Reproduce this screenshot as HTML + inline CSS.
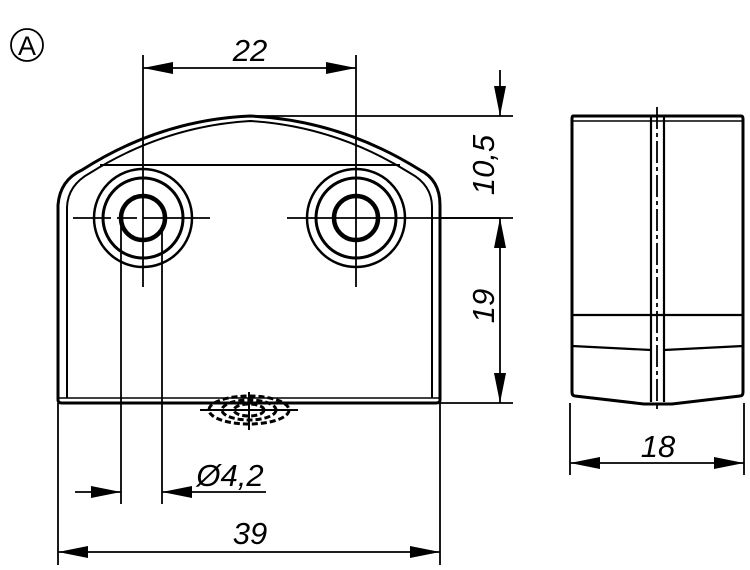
<!DOCTYPE html>
<html><head><meta charset="utf-8"><style>
html,body{margin:0;padding:0;background:#fff;}
svg{display:block}
text{font-family:"Liberation Sans",sans-serif;font-style:italic;fill:#000}
</style></head><body>
<svg width="750" height="570" viewBox="0 0 750 570" xmlns="http://www.w3.org/2000/svg">
<defs>
<marker id="ar" viewBox="0 0 10 4" refX="10" refY="2" markerWidth="30" markerHeight="12" markerUnits="userSpaceOnUse" orient="auto-start-reverse"><path d="M0,0L10,2L0,4z" fill="#000"/></marker>
</defs>
<g fill="none" stroke="#000">
<circle cx="27" cy="45" r="16" stroke-width="1.8"/>
<path d="M58,400 L58,205 Q60,180 82,170 Q160,120 250,116 Q340,120 420,170 Q440,180 440,205 L440,400 Q440,403 436,403 L62,403 Q58,403 58,400Z" stroke-width="3"/>
<path d="M67,398 L67,207 Q68,185 90,173 Q165,126 250,121 Q335,126 410,173 Q432,185 432,207 L432,398" stroke-width="2"/>
<line x1="100" y1="165" x2="400" y2="165" stroke-width="2"/>
<line x1="58" y1="398" x2="440" y2="398" stroke-width="1.5"/>
<g stroke-width="2.5">
<circle cx="143" cy="218" r="49"/><circle cx="143" cy="218" r="40" stroke-width="3"/><circle cx="143" cy="218" r="22" stroke-width="4.5"/>
<circle cx="356" cy="218" r="49"/><circle cx="356" cy="218" r="40" stroke-width="3"/><circle cx="356" cy="218" r="22" stroke-width="4.5"/>
</g>
<g stroke-width="1.8">
<line x1="73" y1="218" x2="210" y2="218" stroke-dasharray="38,6,20,6,200"/>
<line x1="287" y1="218" x2="500" y2="218"/>
<line x1="143" y1="55" x2="143" y2="287"/>
<line x1="356" y1="55" x2="356" y2="287"/>
<line x1="121" y1="225" x2="121" y2="504"/>
<line x1="162" y1="225" x2="162" y2="504"/>
<line x1="58" y1="403" x2="58" y2="565"/>
<line x1="440" y1="403" x2="440" y2="565"/>
<line x1="250" y1="116" x2="513" y2="116"/>
<line x1="440" y1="218" x2="513" y2="218"/>
<line x1="440" y1="403" x2="513" y2="403"/>
<line x1="143" y1="68" x2="356" y2="68" marker-start="url(#ar)" marker-end="url(#ar)"/>
<line x1="500" y1="70" x2="500" y2="116" marker-end="url(#ar)"/>
<line x1="500" y1="218" x2="500" y2="403" marker-start="url(#ar)" marker-end="url(#ar)"/>
<line x1="58" y1="552" x2="440" y2="552" marker-start="url(#ar)" marker-end="url(#ar)"/>
<line x1="75" y1="492" x2="121" y2="492" marker-end="url(#ar)"/>
<line x1="266" y1="492" x2="162" y2="492" marker-end="url(#ar)"/>
</g>
<g stroke-width="3" stroke-dasharray="6,3">
<ellipse cx="249" cy="410" rx="40" ry="14"/>
<ellipse cx="249" cy="410" rx="27" ry="10"/>
<ellipse cx="249" cy="410" rx="15" ry="6"/>
</g>
<line x1="200" y1="410" x2="298" y2="410" stroke-width="2"/>
<line x1="249" y1="392" x2="249" y2="430" stroke-width="2"/>
<path d="M573,116 L741,116 Q743,116 743,119 L743,392 Q743,396 740,396 L672,404 L666,404 L650,404 L644,404 L575,396 Q572,396 572,392 L572,119 Q572,116 573,116Z" stroke-width="3"/>
<line x1="573" y1="121" x2="742" y2="121" stroke-width="1.5"/>
<line x1="651" y1="117" x2="651" y2="402" stroke-width="2.2"/>
<line x1="664" y1="117" x2="664" y2="402" stroke-width="2.2"/>
<line x1="657" y1="107" x2="657" y2="412" stroke-width="1.8" stroke-dasharray="22,4,4,4"/>
<line x1="572" y1="315" x2="743" y2="315" stroke-width="2.2"/>
<path d="M572,346 L651,350 M664,350 L743,346" stroke-width="2.2"/>
<line x1="570" y1="403" x2="570" y2="475" stroke-width="1.8"/>
<line x1="744" y1="403" x2="744" y2="475" stroke-width="1.8"/>
<line x1="570" y1="463" x2="744" y2="463" stroke-width="1.8" marker-start="url(#ar)" marker-end="url(#ar)"/>
</g>
<text x="27" y="55" font-size="27" text-anchor="middle" style="font-style:normal">A</text>
<text x="250" y="61" font-size="31" text-anchor="middle">22</text>
<text x="250" y="544" font-size="31" text-anchor="middle">39</text>
<text x="230" y="486" font-size="31" text-anchor="middle">Ø4,2</text>
<text x="658" y="457" font-size="31" text-anchor="middle">18</text>
<text transform="translate(494,165) rotate(-90)" font-size="31" text-anchor="middle">10,5</text>
<text transform="translate(494,306) rotate(-90)" font-size="31" text-anchor="middle">19</text>
</svg>
</body></html>
